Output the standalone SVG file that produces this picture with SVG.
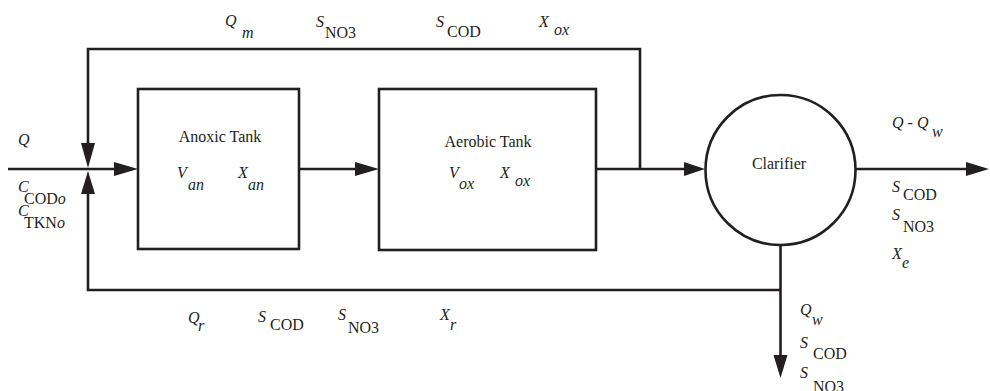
<svg xmlns="http://www.w3.org/2000/svg" width="990" height="391" viewBox="0 0 990 391">
<style>
text{font-size:16px;fill:#231f20}
.i{font-style:italic}
.ln{fill:none;stroke:#231f20;stroke-width:2.6}
.ah{fill:#231f20}
</style>
<rect width="990" height="391" fill="#fff"/>
<g id="connectors">
<path class="ln" d="M8 169H120"/>
<path class="ln" d="M299 169H360"/>
<path class="ln" d="M596 169H690"/>
<path class="ln" d="M856 169H972"/>
<path class="ln" d="M640 169V49H88V150"/>
<path class="ln" d="M780.5 245V360"/>
<path class="ln" d="M780.5 290H88V188"/>
<polygon class="ah" points="138,169 114,162 114,176"/>
<polygon class="ah" points="379,169 355,162 355,176"/>
<polygon class="ah" points="705,169 684,162 684,176"/>
<polygon class="ah" points="989,169 966,162 966,176"/>
<polygon class="ah" points="88,168 81,143 95,143"/>
<polygon class="ah" points="88,171 81,194 95,194"/>
<polygon class="ah" points="780.5,378 773.5,355 787.5,355"/>
</g>
<g font-family="'Liberation Serif', 'Times New Roman', Times, serif">
<g id="anoxic">
<rect class="ln" x="138" y="89" width="161" height="160"/>
<text x="220" y="142" text-anchor="middle">Anoxic Tank</text>
<text x="177" y="178"><tspan class="i">V</tspan><tspan class="i" x="188" y="190">an</tspan></text>
<text x="238" y="178"><tspan class="i">X</tspan><tspan class="i" x="248" y="190">an</tspan></text>
</g>
<g id="aerobic">
<rect class="ln" x="379" y="89" width="217" height="161"/>
<text x="488" y="147" text-anchor="middle">Aerobic Tank</text>
<text x="449" y="178"><tspan class="i">V</tspan><tspan class="i" x="459" y="189">ox</tspan></text>
<text x="500" y="178"><tspan class="i">X</tspan><tspan class="i" x="515" y="186">ox</tspan></text>
</g>
<g id="clarifier">
<circle class="ln" cx="780.5" cy="170" r="75"/>
<text x="779" y="169" text-anchor="middle">Clarifier</text>
</g>
<g id="labels">
<text x="225" y="26"><tspan class="i">Q</tspan><tspan class="i" x="242" y="38">m</tspan></text>
<text x="316" y="27"><tspan class="i">S</tspan><tspan x="325" y="38">NO3</tspan></text>
<text x="436" y="27"><tspan class="i">S</tspan><tspan x="447" y="37">COD</tspan></text>
<text x="539" y="27"><tspan class="i">X</tspan><tspan class="i" x="554" y="35">ox</tspan></text>
<text class="i" x="18" y="145">Q</text>
<text x="18" y="192"><tspan class="i">C</tspan><tspan x="24" y="204">COD<tspan class="i">o</tspan></tspan></text>
<text x="18" y="216"><tspan class="i">C</tspan><tspan x="24" y="228">TKN<tspan class="i">o</tspan></tspan></text>
<text x="892" y="128"><tspan class="i">Q - Q</tspan><tspan class="i" x="932" y="137">w</tspan></text>
<text x="892" y="192"><tspan class="i">S</tspan><tspan x="903" y="200">COD</tspan></text>
<text x="892" y="220"><tspan class="i">S</tspan><tspan x="903" y="232">NO3</tspan></text>
<text x="892" y="259"><tspan class="i">X</tspan><tspan class="i" x="902" y="268">e</tspan></text>
<text x="188" y="323"><tspan class="i">Q</tspan><tspan class="i" x="198" y="331">r</tspan></text>
<text x="258" y="322"><tspan class="i">S</tspan><tspan x="270" y="330">COD</tspan></text>
<text x="338" y="320"><tspan class="i">S</tspan><tspan x="348" y="333">NO3</tspan></text>
<text x="440" y="320"><tspan class="i">X</tspan><tspan class="i" x="450" y="330">r</tspan></text>
<text x="800" y="315"><tspan class="i">Q</tspan><tspan class="i" x="812" y="325">w</tspan></text>
<text x="800" y="348"><tspan class="i">S</tspan><tspan x="813" y="359">COD</tspan></text>
<text x="800" y="378"><tspan class="i">S</tspan><tspan x="813" y="392">NO3</tspan></text>
</g>
</g>
</svg>
